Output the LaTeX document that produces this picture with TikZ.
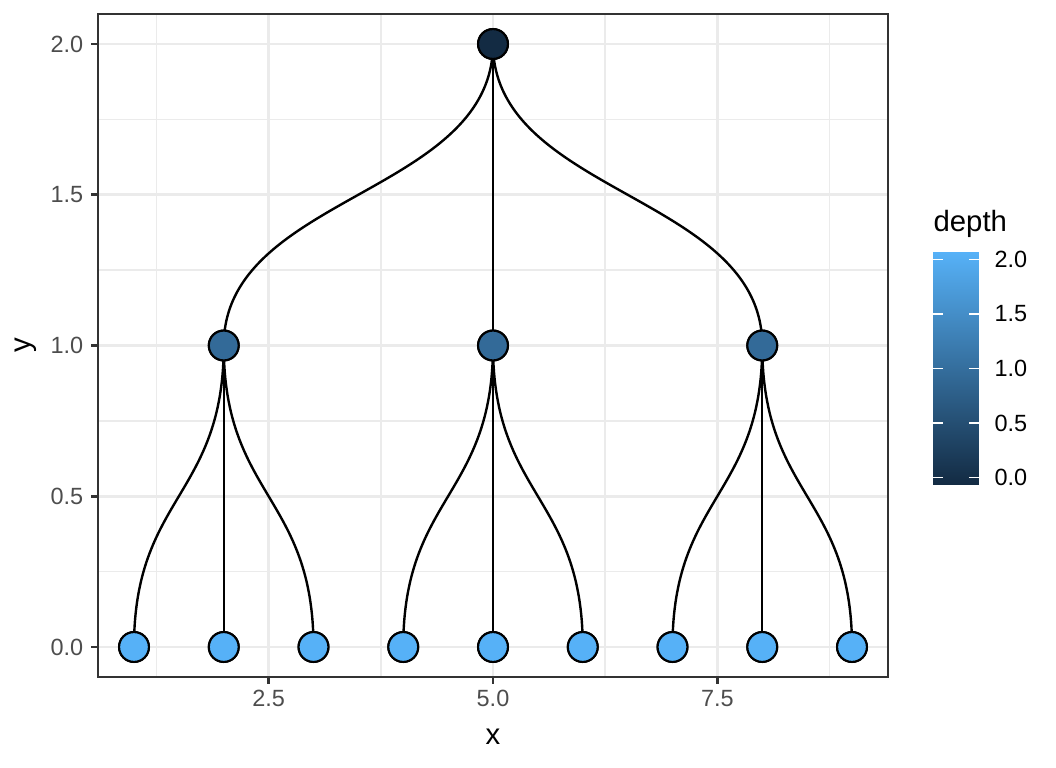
\documentclass[tikz,border=0pt]{standalone}
\usepackage{fontspec}
\setmainfont{Liberation Sans}
\definecolor{dep0}{HTML}{132B43}
\definecolor{dep1}{HTML}{336A98}
\definecolor{dep2}{HTML}{56B1F7}
\definecolor{gridgrey}{HTML}{EBEBEB}
\definecolor{axgrey}{HTML}{333333}
\definecolor{lblgrey}{HTML}{4D4D4D}
\tikzset{vert/.style = {draw = black, circle, inner sep = 0, minimum size = 11.2pt, line width = 0.8pt}}
\tikzset{diag/.style = {out = -90, in = 90, distance = 56.53pt}}
\tikzset{edge/.style = {black, line width = 0.9pt}}
\tikzset{ticklbl/.style = {font = \fontsize{8.8}{10}\selectfont, text = lblgrey, inner sep = 0}}
\tikzset{ttl/.style = {font = \fontsize{11}{13}\selectfont, inner sep = 0}}

\begin{document}
\begin{tikzpicture}[x = 33.656pt, y = 113.0625pt]
      \useasboundingbox (-0.493, -0.4013) rectangle (11.273, 2.1459);

      % grid
      \foreach \y in {0.25, 0.75, 1.25, 1.75} {
        \draw [gridgrey, line width = 0.53pt] (0.6, \y) -- (9.4, \y);
      }
      \foreach \x in {1.25, 3.75, 6.25, 8.75} {
        \draw [gridgrey, line width = 0.53pt] (\x, -0.1) -- (\x, 2.1);
      }
      \foreach \y in {0.0, 0.5, 1.0, 1.5, 2.0} {
        \draw [gridgrey, line width = 1.07pt] (0.6, \y) -- (9.4, \y);
        \draw [axgrey, line width = 1.07pt] (0.6, \y) -- (0.5187, \y);
        \node [ticklbl, anchor = east] at (0.44, \y) {\y};
      }
      \foreach \x in {2.5, 5.0, 7.5} {
        \draw [gridgrey, line width = 1.07pt] (\x, -0.1) -- (\x, 2.1);
        \draw [axgrey, line width = 1.07pt] (\x, -0.1) -- (\x, -0.1242);
        \node [ticklbl, anchor = base] at (\x, -0.199) {\x};
      }

      \node [vert, fill = dep0] (n0) at (5, 2) {};
      \foreach \x [count = \i] in {2, 5, 8} {
        \node [vert, fill = dep1] (m\i) at (\x, 1) {};
      }
      \foreach \x in {1, ..., 9} {
        \node [vert, fill = dep2] (l\x) at (\x, 0) {};
      }

      \foreach \i in {1, 2, 3} {
        \draw [edge] (n0.center) to [diag] (m\i.center);
      }
      \foreach \i/\a/\b/\c in {1/1/2/3, 2/4/5/6, 3/7/8/9} {
        \foreach \j in {\a, \b, \c} {
          \draw [edge] (m\i.center) to [diag] (l\j.center);
        }
      }

      \node [vert, fill = dep0] (n0) at (5, 2) {};
      \foreach \x [count = \i] in {2, 5, 8} {
        \node [vert, fill = dep1] (m\i) at (\x, 1) {};
      }
      \foreach \x in {1, ..., 9} {
        \node [vert, fill = dep2] (l\x) at (\x, 0) {};
      }

      \draw [axgrey, line width = 0.8pt] (0.6, -0.1) rectangle (9.4, 2.1);

      % axis titles
      \node [ttl, anchor = base] (xlab) at (5, -0.325) {x};
      \node [ttl, anchor = base, rotate = 90] (ylab) at (-0.153, 1) {y};

      % legend
      \node [ttl, anchor = base west] (leg) at (9.903, 1.3775) {depth};
      \shade [top color = dep2, middle color = dep1, bottom color = dep0] (9.903, 0.5406) rectangle (10.415, 1.3078);
      \foreach \v in {0.0, 0.5, 1.0, 1.5, 2.0} {
        \draw [white, line width = 0.5pt] (9.903, {0.5615 + \v * 0.3622}) -- ++(0.1114, 0);
        \draw [white, line width = 0.5pt] (10.415, {0.5615 + \v * 0.3622}) -- ++(-0.1114, 0);
        \node [ticklbl, text = black, anchor = west] at (10.582, {0.5615 + \v * 0.3622}) {\v};
      }
    \end{tikzpicture}
\end{document}
